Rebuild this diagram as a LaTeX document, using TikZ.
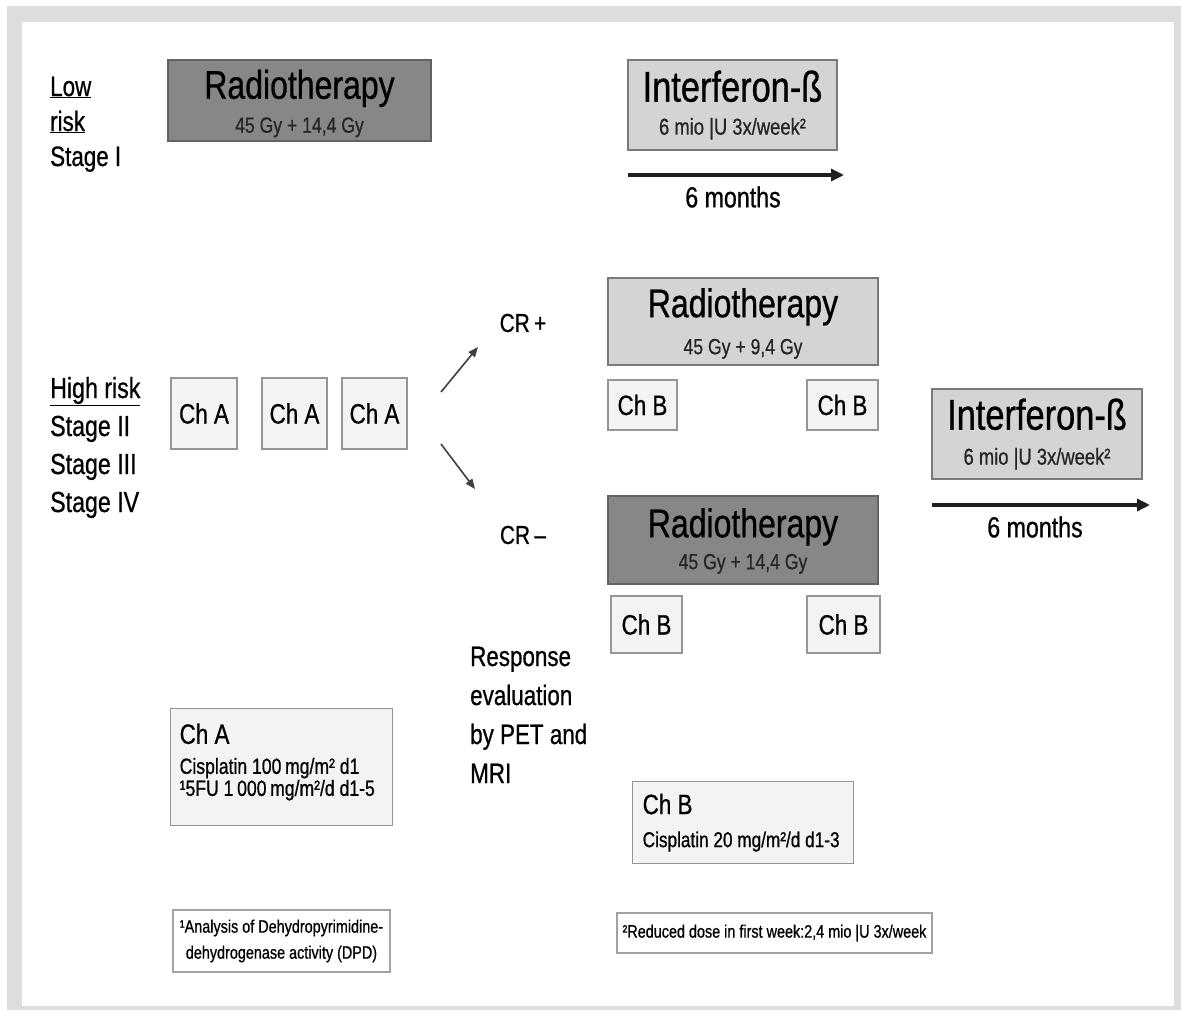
\documentclass[tikz,border=0pt]{standalone}
\usepackage{fontspec}
\setmainfont{Liberation Sans}[FakeStretch=0.8,FakeBold=0.7]
\usetikzlibrary{arrows.meta,positioning}
\definecolor{frameGrey}{HTML}{DCDDDF}
\definecolor{rtDark}{HTML}{878787}
\definecolor{rtLight}{HTML}{D3D4D6}
\definecolor{boxEdge}{HTML}{7A7A7A}
\definecolor{chFill}{HTML}{F3F3F3}
\definecolor{subGrey}{HTML}{262626}
\newcommand{\fsz}[2]{\fontsize{#1}{#2}\selectfont}

\begin{document}
\begin{tikzpicture}[x=1pt,y=-1pt, >=Stealth,
  rtdark/.style={draw=boxEdge!80!black,fill=rtDark,line width=1.6pt,inner sep=0pt,align=center},
  rtlight/.style={draw=boxEdge,fill=rtLight,line width=1.6pt,inner sep=0pt,align=center},
  chbox/.style={draw=boxEdge!80,fill=chFill,line width=1.4pt,inner sep=0pt,font=\fsz{28}{30}},
  legbox/.style={draw=boxEdge!80,fill=chFill,line width=1.4pt,align=flush left,anchor=north west,inner ysep=0pt},
  notebox/.style={draw=boxEdge!70,fill=white,line width=1.2pt,inner sep=0pt,align=center},
  side/.style={anchor=base west,align=left,inner sep=0pt},
  thin/.style={draw=black!75,line width=1.6pt,-{Triangle[length=10pt,width=8pt]}},
  fat/.style={draw=black!88,line width=4pt,-{Triangle[length=13pt,width=12pt]}}]
% --- frame ---
\useasboundingbox (0,0) rectangle (1181,1010);
\fill[frameGrey] (7,6) rectangle (1181,1010);
\fill[white] (22,22) rectangle (1174,1006);
% --- low risk row ---
\node[side,font=\fsz{28}{35}] (low) at (50,166) {\underline{Low}\\\underline{risk}\\Stage I};
\node[rtdark,minimum width=263pt,minimum height=81pt,font=\fsz{22}{34}] (rt1) at (299.5,100.5)
  {{\fsz{40}{40}\rule{0pt}{35pt}Radiotherapy}\\{\color{subGrey}45 Gy + 14,4 Gy}};
\node[rtlight,minimum width=209pt,minimum height=90pt,font=\fsz{23}{33}] (ifn1) at (732.5,105)
  {{\fsz{43}{44}Interferon-ß}\\{\color{subGrey}6 mio |U 3x/week²}};
\coordinate (m1a) at (628,175);
\coordinate (m1b) at (844,175);
\draw[fat] (m1a) -- node[below=6pt,xshift=-3pt,font=\fsz{29}{30}] (mon1) {6 months} (m1b);
% --- high risk row ---
\node[side,font=\fsz{29}{38}] (high) at (50,512) {\underline{High risk}\\Stage II\\Stage III\\Stage IV};
\node[chbox,minimum width=66pt,minimum height=71pt] (cha1) at (204,413.5) {Ch A};
\node[chbox,minimum width=65pt,minimum height=71pt] (cha2) at (294.5,413.5) {Ch A};
\node[chbox,minimum width=65pt,minimum height=71pt] (cha3) at (374.5,413.5) {Ch A};
\coordinate (up0) at (441,392);
\coordinate (dn0) at (441,444);
\node[font=\fsz{26}{28}] (crp) at (523,323) {CR\,+};
\node[font=\fsz{26}{28}] (crm) at (523,535) {CR\,–};
\draw[thin] (up0) -- (478,347) coordinate (up1);
\draw[thin] (dn0) -- (475,489) coordinate (dn1);
\node[rtlight,minimum width=270pt,minimum height=87pt,font=\fsz{22}{37}] (rt2) at (743,321.5)
  {{\fsz{40}{40}\rule{0pt}{33pt}Radiotherapy}\\{\color{subGrey}45 Gy + 9,4 Gy}};
\node[chbox,minimum width=69pt,minimum height=50pt] (chb1) at (642.5,405) {Ch B};
\node[chbox,minimum width=71pt,minimum height=50pt] (chb2) at (842.5,405) {Ch B};
\node[rtdark,minimum width=270pt,minimum height=88pt,font=\fsz{22}{32}] (rt3) at (743,540)
  {{\fsz{40}{40}\rule{0pt}{31pt}Radiotherapy}\\{\color{subGrey}45 Gy + 14,4 Gy}};
\node[chbox,minimum width=71pt,minimum height=57pt] (chb3) at (646.5,624.5) {Ch B};
\node[chbox,minimum width=73pt,minimum height=57pt] (chb4) at (843.5,624.5) {Ch B};
\node[rtlight,minimum width=210pt,minimum height=90pt,font=\fsz{23}{35}] (ifn2) at (1037,434)
  {{\fsz{43}{44}Interferon-ß}\\{\color{subGrey}6 mio |U 3x/week²}};
\coordinate (m2a) at (932,505);
\coordinate (m2b) at (1150,505);
\draw[fat] (m2a) -- node[below=6pt,xshift=-6pt,font=\fsz{29}{30}] (mon2) {6 months} (m2b);
\node[side,font=\fsz{28}{39}] (resp) at (470,783) {Response\\evaluation\\by PET and\\MRI};
% --- legend ---
\node[legbox,minimum width=222pt,minimum height=117pt,inner xsep=9pt,text width=204pt,font=\fsz{22}{22}] (lega) at (170,708)
  {{\fsz{28}{28}Ch A}\\[8pt]Cisplatin 100\,mg/m² d1\\¹5FU 1\,000\,mg/m²/d d1-5\rule[-15pt]{0pt}{0pt}};
\node[legbox,minimum width=221pt,minimum height=82pt,inner xsep=10pt,text width=201pt,font=\fsz{21.5}{22}] (legb) at (632,781)
  {{\fsz{28}{28}Ch B}\\[11pt]Cisplatin 20 mg/m²/d d1-3};
\node[notebox,minimum width=217pt,minimum height=62pt,font=\fsz{18}{26}] (note1) at (281.5,941)
  {¹Analysis of Dehydropyrimidine-\\dehydrogenase activity (DPD)};
\node[notebox,minimum width=315pt,minimum height=40pt,font=\fsz{18}{20}] (note2) at (774.5,933)
  {²Reduced dose in first week:2,4 mio |U 3x/week};
\end{tikzpicture}
\end{document}
